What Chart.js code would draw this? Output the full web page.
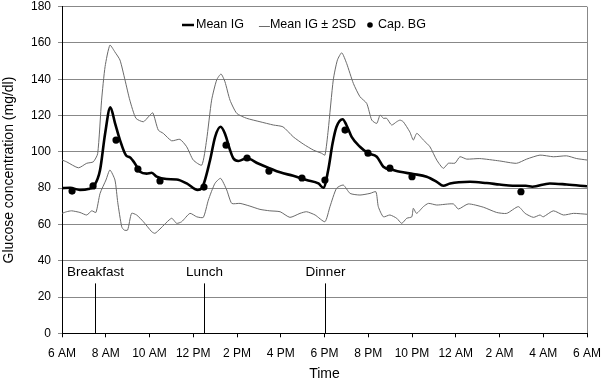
<!DOCTYPE html>
<html><head><meta charset="utf-8">
<script src="https://cdn.jsdelivr.net/npm/chart.js@4/dist/chart.umd.min.js"></script>
<style>html,body{margin:0;padding:0;background:#fff}</style>
</head><body>
<canvas id="c" width="605" height="382" style="display:block;width:605px;height:382px"></canvas>
<script>
const xTickLabels = ['6 AM','8 AM','10 AM','12 PM','2 PM','4 PM','6 PM','8 PM','10 PM','12 AM','2 AM','4 AM','6 AM'];
const seriesNames = ['Mean IG','Mean IG \u00b1 2SD','Cap. BG'];

const meanHours  = [0,0.37,0.82,1.2,1.48,1.74,1.97,2.21,2.42,2.65,2.93,3.1,3.34,3.57,3.87,4.1,4.33,4.78,5.24,5.7,6.2,6.39,6.77,7.0,7.25,7.45,7.68,7.83,8.06,8.44,8.97,9.5,9.97,10.57,11.18,11.72,11.95,12.17,12.37,12.55,12.83,13.0,13.24,13.62,14.0,14.39,14.69,15.15,15.45,16.06,16.67,17.13,17.43,17.74,18.65,19.41,20.0,20.6,21.2,21.5,22.3,23.07,24];
const meanValues = [80,80.2,79,79.5,81.5,90,110,124.5,116,106.5,98,97,93.5,89,88,88.5,86.3,85,84.8,82.6,79,80,95.5,108.3,113.8,110,101,96.5,95,96.5,93.6,90.9,88.7,86.8,84.5,82.6,80.2,90,104.7,113.8,118,114.8,108.3,102.8,99.2,97.3,91.8,90,89,87.8,86.3,83.5,81.3,82.6,83.5,82.8,82,81.3,81.3,80.8,82.6,82,81];

const upperHours  = [0,0.21,0.75,1.13,1.43,1.63,1.81,1.97,2.19,2.42,2.65,2.88,3.1,3.38,3.72,3.95,4.15,4.4,4.63,5.01,5.39,5.7,6.0,6.39,6.61,6.84,7.07,7.27,7.45,7.68,7.99,8.44,9.05,9.66,10.1,10.57,11.03,11.49,11.87,12.02,12.17,12.4,12.59,12.79,13.01,13.32,13.62,13.93,14.16,14.39,14.54,14.69,14.84,15.07,15.3,15.45,15.6,15.9,16.06,16.22,16.52,16.82,17.13,17.43,17.66,17.97,18.19,18.5,19.1,20.0,20.78,21.24,21.85,22.46,23.07,23.53,24];
const upperValues = [95.5,94.5,91.2,93.7,94.5,99,128.5,147,158.8,155,150.6,139.6,128.5,118.5,116.6,119.3,121.5,112,110.2,106.1,106.9,102.8,95.5,92.7,106.5,128.5,139.6,142.9,138.6,128.5,121.2,118.5,116.6,114.8,113.8,108.3,104.3,101,99.2,98.2,112,139.6,150.6,154.6,148.8,137.7,130.4,126.7,117.5,115.7,120.3,118.5,118.5,114.8,116.6,117.5,116.6,111,106.5,110.2,106.5,102.8,95.5,90.9,93.7,93.8,97.3,96,96.3,95,93.7,96,98.2,97.3,97.8,96.3,95.5];

const lowerHours  = [0,0.21,0.44,0.82,1.13,1.36,1.55,1.74,2.01,2.19,2.42,2.55,2.73,2.84,3.0,3.18,3.41,3.72,4.1,4.25,4.48,5.01,5.24,5.47,5.85,6.16,6.46,6.69,6.99,7.25,7.53,7.76,8.14,8.59,9.05,9.5,9.97,10.42,10.88,11.18,11.57,12.02,12.25,12.55,12.86,13.17,13.62,14.08,14.35,14.46,14.69,14.99,15.3,15.53,15.76,15.99,16.06,16.21,16.52,16.75,17.13,17.89,18.12,18.57,19.26,19.87,20.33,20.86,21.17,21.55,21.85,22.0,22.46,22.92,23.38,24];
const lowerValues = [66.1,67,67.5,66.6,65.2,67.5,66.6,77.1,84.5,90,84.5,72,58.7,56.9,56.9,66.1,65.2,61.5,56,55.1,57.5,63.4,60.6,61.5,66.1,64.2,63.9,73.4,82.6,85.4,79,71.6,71.6,70.1,68.3,67.5,67,63.9,66.1,67,65.2,61.5,69.8,79.9,81.7,77.1,76.2,77.1,78,69.8,64.2,65.2,63.4,60.6,63.4,64.2,68.9,66.1,69.8,71.6,70.7,71.3,68.5,71.3,69.5,66.6,66.1,69.8,66.1,63.9,65.2,64.2,67.5,65.2,66.1,65.6];

const capHours  = [0.46,1.42,2.47,3.47,4.48,6.49,7.5,8.46,9.46,10.97,12.02,12.94,13.99,14.99,16.0,20.98];
const capValues = [78.4,81.2,106.5,90.5,84,80.6,103.7,96.6,89.4,85.6,84.5,112,99.3,91,86.3,78];

const mealLabels = ['Breakfast','Lunch','Dinner'];
const mealHours  = [1.5, 6.5, 12];

const FONT = '"Liberation Sans", Arial, sans-serif';
const toXY = (xs, ys) => xs.map((x, i) => ({x, y: ys[i]}));

const overlay = {
  id: 'overlay',
  afterDraw(chart) {
    const {ctx, scales: {x, y}} = chart;
    ctx.save();
    ctx.strokeStyle = '#000'; ctx.lineWidth = 1;
    ctx.fillStyle = '#000';
    ctx.font = '13.5px ' + FONT;
    ctx.textAlign = 'center'; ctx.textBaseline = 'middle';
    mealHours.forEach((h, i) => {
      const px = Math.round(x.getPixelForValue(h)) + 0.5;
      ctx.beginPath();
      ctx.moveTo(px, y.getPixelForValue(0));
      ctx.lineTo(px, y.getPixelForValue(27.5));
      ctx.stroke();
      ctx.fillText(mealLabels[i], px, y.getPixelForValue(33.4));
    });
    ctx.font = '12.5px ' + FONT;
    ctx.textAlign = 'left';
    const ly = 25;
    let lx = 182;
    ctx.lineWidth = 2.5; ctx.strokeStyle = '#000';
    ctx.beginPath(); ctx.moveTo(lx, ly); ctx.lineTo(lx + 12, ly); ctx.stroke();
    lx += 14;
    ctx.fillText(seriesNames[0], lx, ly);
    lx += ctx.measureText(seriesNames[0]).width + 15;
    ctx.lineWidth = 1; ctx.strokeStyle = '#6a6a6a';
    ctx.beginPath(); ctx.moveTo(lx, ly + 1.5); ctx.lineTo(lx + 11, ly + 1.5); ctx.stroke();
    lx += 11;
    ctx.fillText(seriesNames[1], lx, ly);
    lx += ctx.measureText(seriesNames[1]).width + 14;
    ctx.beginPath(); ctx.arc(lx, ly, 2.8, 0, Math.PI * 2); ctx.fill();
    lx += 8;
    ctx.fillText(seriesNames[2], lx, ly);
    ctx.restore();
  }
};

new Chart(document.getElementById('c'), {
  type: 'line',
  data: {
    datasets: [
      {label: seriesNames[1], data: toXY(upperHours, upperValues), borderColor: '#6a6a6a', borderWidth: 1, pointRadius: 0, tension: 0.2, fill: false},
      {label: seriesNames[1] + ' low', data: toXY(lowerHours, lowerValues), borderColor: '#6a6a6a', borderWidth: 1, pointRadius: 0, tension: 0.2, fill: false},
      {label: seriesNames[0], data: toXY(meanHours, meanValues), borderColor: '#000', borderWidth: 2.6, pointRadius: 0, cubicInterpolationMode: 'monotone', fill: false},
      {label: seriesNames[2], data: toXY(capHours, capValues), showLine: false, pointRadius: 3.6, pointBackgroundColor: '#000', pointBorderWidth: 0, borderColor: '#000'}
    ]
  },
  options: {
    responsive: false,
    animation: false,
    layout: {padding: {left: 0, right: 18, top: 6.7, bottom: 0}},
    plugins: {legend: {display: false}, tooltip: {enabled: false}},
    scales: {
      x: {
        type: 'linear', min: 0, max: 24,
        afterFit: s => { s.height = 48.7; s.paddingLeft = 0; s.paddingRight = 0; },
        ticks: {stepSize: 2, color: '#000', font: {size: 12, family: FONT}, padding: 9, maxRotation: 0,
          callback: v => xTickLabels[Math.round(v / 2)]},
        grid: {drawOnChartArea: true, tickLength: 4, tickColor: '#000',
          color: c => (c.tick && c.tick.value === 24) ? '#888' : 'rgba(0,0,0,0)'},
        border: {color: '#000', width: 1},
        title: {display: true, text: 'Time', color: '#000', font: {size: 14, family: FONT}, padding: {top: 0, bottom: -1}}
      },
      y: {
        min: 0, max: 180,
        afterFit: s => { s.width = 62; s.paddingTop = 0; s.paddingBottom = 0; },
        ticks: {stepSize: 20, color: '#000', font: {size: 12, family: FONT}, padding: 7},
        grid: {color: '#888', tickLength: 4, tickColor: '#888'},
        border: {color: '#000', width: 1},
        title: {display: true, text: 'Glucose concentration (mg/dl)', color: '#000', font: {size: 14, family: FONT}, padding: {top: 1, bottom: 0}}
      }
    }
  },
  plugins: [overlay]
});
</script>
</body></html>
